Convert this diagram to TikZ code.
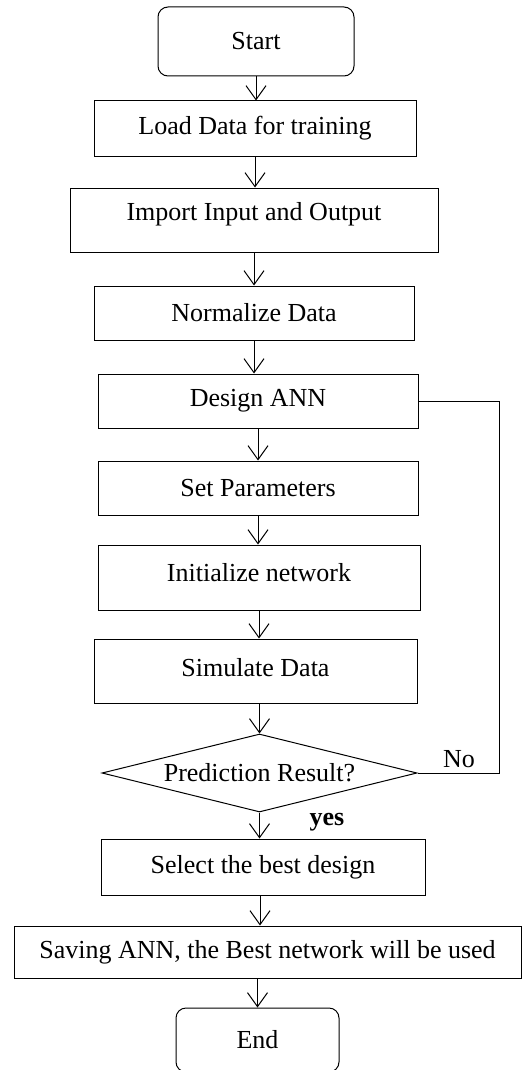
\documentclass[tikz,border=0pt]{standalone}
\usepackage{fontspec}
\setmainfont{Liberation Serif}
\usetikzlibrary{arrows.meta,shapes.geometric}

\begin{document}
\begin{tikzpicture}[x=1pt, y=-1pt,
    box/.style={draw, line width=1pt, rectangle, inner sep=0pt, font=\fontsize{26}{31}\selectfont},
    term/.style={box, rounded corners=10pt},
    decide/.style={draw, line width=1pt, diamond, aspect=4.04, inner sep=0pt,
        minimum width=315pt, minimum height=78pt, font=\fontsize{26}{31}\selectfont},
    flow/.style={line width=1pt, -{Straight Barb[length=14pt,width=20pt]}},
    back/.style={line width=1pt}]
    \useasboundingbox (0,0) rectangle (522,1070);

    \node[term, minimum width=196pt, minimum height=69pt] (start) at (256,41.5) {Start};
    \node[box, minimum width=322pt, minimum height=55pt] (load) at (255,128.5) {Load Data for training};
    \node[box, minimum width=368pt, minimum height=64pt, text depth=17pt] (import) at (254,220) {Import Input and Output};
    \node[box, minimum width=320pt, minimum height=54pt] (norm) at (254,313) {Normalize Data};
    \node[box, minimum width=320pt, minimum height=54pt] (design) at (258,401) {Design ANN};
    \node[box, minimum width=320pt, minimum height=54pt] (param) at (258,488) {Set Parameters};
    \node[box, minimum width=322pt, minimum height=65pt, text depth=11pt] (init) at (259,577.5) {Initialize network};
    \node[box, minimum width=323pt, minimum height=64pt, text depth=8pt] (sim) at (255.5,671) {Simulate Data};
    \node[decide] (pred) at (259.5,773) {Prediction Result?};
    \node[box, minimum width=324pt, minimum height=56pt] (best) at (263,867) {Select the best design};
    \node[box, minimum width=507pt, minimum height=52pt] (save) at (267.5,952) {Saving ANN, the Best network will be used};
    \node[term, minimum width=163pt, minimum height=64pt] (stop) at (257.5,1040) {End};

    \coordinate (c1) at (499,773);
    \coordinate (c2) at (499,401);

    \draw[flow] (start.south) -- (start.south |- load.north);
    \draw[flow] (load.south) -- (load.south |- import.north);
    \draw[flow] (import.south) -- (import.south |- norm.north);
    \draw[flow] (norm.south) -- (norm.south |- design.north);
    \draw[flow] (design.south) -- (design.south |- param.north);
    \draw[flow] (param.south) -- (param.south |- init.north);
    \draw[flow] (init.south) -- (init.south |- sim.north);
    \draw[flow] (sim.south -| pred.north) -- (pred.north);
    \draw[flow] (pred.south) -- (pred.south |- best.north);
    \draw[flow] (best.south -| 260,0) -- (260,0 |- save.north);
    \draw[flow] (save.south -| stop.north) -- (stop.north);

    \draw[back] (pred.east) -- (c1) -- (c2) -- (design.east);
    \node[font=\fontsize{26}{31}\selectfont, anchor=south] (no) at (459,771) {No};
    \node[font=\bfseries\fontsize{26}{31}\selectfont] (yes) at (327,822) {yes};
\end{tikzpicture}
\end{document}
